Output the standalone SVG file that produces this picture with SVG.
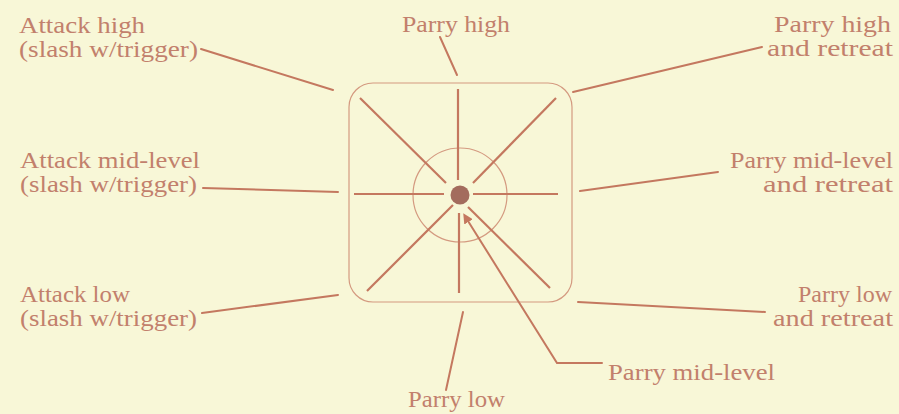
<svg xmlns="http://www.w3.org/2000/svg" width="899" height="414" viewBox="0 0 899 414">
  <defs>
    <style>
      .t { font-family: "Liberation Serif", "DejaVu Serif", serif; font-size: 24px; fill: #c2806c; }
      .e { text-anchor: end; }
      .lead { stroke: #c4785f; stroke-width: 2; fill: none; stroke-linecap: round; }
      .spoke { stroke: #c4785f; stroke-width: 2.2; stroke-linecap: butt; }
      .thin { stroke: #d49a80; stroke-width: 1.2; fill: none; }
    </style>
    <marker id="arr" viewBox="0 0 10 10" refX="1" refY="5" markerWidth="5" markerHeight="5" orient="auto-start-reverse" markerUnits="strokeWidth">
      <path d="M0,0 L10,5 L0,10 z" fill="#c4785f"/>
    </marker>
  </defs>
  <rect width="899" height="414" fill="#f8f7d7"/>

  <g id="field">
    <rect class="thin" x="349" y="83" width="223" height="219" rx="24"/>
    <circle class="thin" cx="460" cy="195" r="47"/>
    <line class="spoke" x1="458" y1="89" x2="458" y2="180"/>
    <line class="spoke" x1="459" y1="213" x2="459" y2="293"/>
    <line class="spoke" x1="354" y1="194" x2="444" y2="194"/>
    <line class="spoke" x1="473" y1="194" x2="558" y2="194"/>
    <line class="spoke" x1="360" y1="98" x2="446" y2="183"/>
    <line class="spoke" x1="556" y1="98" x2="473" y2="183"/>
    <line class="spoke" x1="367" y1="291" x2="453" y2="205"/>
    <line class="spoke" x1="550" y1="288" x2="468" y2="207"/>
    <circle cx="460" cy="195" r="9.5" fill="#a36c5d"/>
  </g>

  <g id="attack-high">
    <text class="t" x="19" y="33" textLength="126" lengthAdjust="spacingAndGlyphs">Attack high</text>
    <text class="t" x="19" y="57" textLength="179" lengthAdjust="spacingAndGlyphs">(slash w/trigger)</text>
  </g>
  <g id="attack-mid">
    <text class="t" x="20" y="168" textLength="180" lengthAdjust="spacingAndGlyphs">Attack mid-level</text>
    <text class="t" x="20" y="192" textLength="177" lengthAdjust="spacingAndGlyphs">(slash w/trigger)</text>
  </g>
  <g id="attack-low">
    <text class="t" x="20" y="302" textLength="110" lengthAdjust="spacingAndGlyphs">Attack low</text>
    <text class="t" x="20" y="326" textLength="177" lengthAdjust="spacingAndGlyphs">(slash w/trigger)</text>
  </g>
  <g id="parry-high">
    <text class="t" x="402" y="32" textLength="108" lengthAdjust="spacingAndGlyphs">Parry high</text>
  </g>
  <g id="parry-low">
    <text class="t" x="408" y="407" textLength="97" lengthAdjust="spacingAndGlyphs">Parry low</text>
  </g>
  <g id="parry-mid">
    <text class="t" x="608" y="380" textLength="167" lengthAdjust="spacingAndGlyphs">Parry mid-level</text>
  </g>
  <g id="parry-high-retreat">
    <text class="t e" x="891" y="32" textLength="117" lengthAdjust="spacingAndGlyphs">Parry high</text>
    <text class="t e" x="893" y="56" textLength="126" lengthAdjust="spacingAndGlyphs">and  retreat</text>
  </g>
  <g id="parry-mid-retreat">
    <text class="t e" x="893" y="168" textLength="163" lengthAdjust="spacingAndGlyphs">Parry mid-level</text>
    <text class="t e" x="893" y="192" textLength="130" lengthAdjust="spacingAndGlyphs">and  retreat</text>
  </g>
  <g id="parry-low-retreat">
    <text class="t e" x="892" y="302" textLength="94" lengthAdjust="spacingAndGlyphs">Parry low</text>
    <text class="t e" x="893" y="326" textLength="120" lengthAdjust="spacingAndGlyphs">and  retreat</text>
  </g>

  <g id="connectors">
    <line class="lead" x1="201" y1="49" x2="333" y2="90"/>
    <line class="lead" x1="203" y1="188" x2="338" y2="192"/>
    <line class="lead" x1="202" y1="313" x2="338" y2="295"/>
    <line class="lead" x1="440" y1="37" x2="457" y2="75"/>
    <line class="lead" x1="762" y1="47" x2="573" y2="92"/>
    <line class="lead" x1="718" y1="172" x2="580" y2="191"/>
    <line class="lead" x1="578" y1="302" x2="765" y2="312"/>
    <line class="lead" x1="463" y1="312" x2="446" y2="390"/>
    <polyline class="lead" points="468,221 557,363 602,363" marker-start="url(#arr)"/>
  </g>
</svg>
